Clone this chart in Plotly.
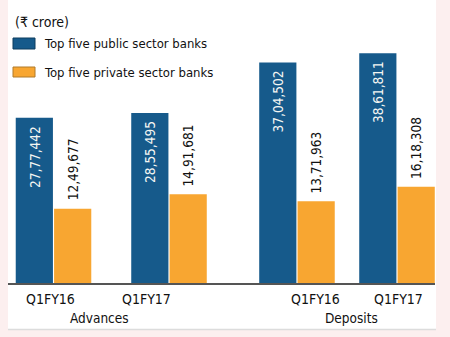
import plotly.graph_objects as go

# Data (₹ crore)
groups = ["Advances", "Advances", "Deposits", "Deposits"]
quarters = ["Q1FY16", "Q1FY17", "Q1FY16", "Q1FY17"]
public_banks = [2777442, 2855495, 3704502, 3861811]
private_banks = [1249677, 1491681, 1371963, 1618308]
public_labels = ["27,77,442", "28,55,495", "37,04,502", "38,61,811"]
private_labels = ["12,49,677", "14,91,681", "13,71,963", "16,18,308"]
series_names = ["Top five public sector banks", "Top five private sector banks"]
unit_label = "(₹ crore)"

# Layout constants
W, H = 450, 337
ML, MR, MT, MB = 8, 15, 45, 54
slot_pos = [0.0, 1.0, 2.108, 2.974]          # centre of each bar pair
tick_pos = [-0.026, 0.805, 2.268, 2.987]     # quarter label positions
group_label_pos = {"Advances": 0.398, "Deposits": 2.58}
bar_w = 0.322
gap = 0.005
x_range = [-0.394, 3.303]
y_range = [0, 4.0e6]

BLUE = "#165a8b"
ORANGE = "#f8a631"
FONT = "DejaVu Sans Condensed, Liberation Sans, sans-serif"

pw, ph = W - ML - MR, H - MT - MB


def px_x(x):
    return (x - ML) / pw


def px_y(y):
    return (H - MB - y) / ph


fig = go.Figure()
fig.add_trace(go.Bar(
    x=slot_pos, y=public_banks, name=series_names[0],
    width=bar_w, offset=-bar_w - gap,
    marker=dict(color=BLUE, line=dict(width=0)), showlegend=False,
))
fig.add_trace(go.Bar(
    x=slot_pos, y=private_banks, name=series_names[1],
    width=bar_w, offset=gap,
    marker=dict(color=ORANGE, line=dict(width=0)), showlegend=False,
))

annotations = []
for xp, v, t in zip(slot_pos, public_banks, public_labels):
    annotations.append(dict(
        x=xp - bar_w / 2 - gap, y=v, text=t, textangle=-90, showarrow=False,
        xanchor="center", yanchor="top", yshift=-6,
        font=dict(family=FONT, size=13.5, color="#f4f6f2"),
    ))
for xp, v, t in zip(slot_pos, private_banks, private_labels):
    annotations.append(dict(
        x=xp + bar_w / 2 + gap, y=v, text=t, textangle=-90, showarrow=False,
        xanchor="center", yanchor="bottom", yshift=6,
        font=dict(family=FONT, size=13.5, color="#111111"),
    ))

# quarter labels under the axis
for xp, q in zip(tick_pos, quarters):
    annotations.append(dict(
        x=xp, y=0, xref="x", yref="paper", text=q, showarrow=False,
        xanchor="center", yanchor="middle", yshift=-16,
        font=dict(family=FONT, size=14, color="#111111"),
    ))
for g, xp in group_label_pos.items():
    annotations.append(dict(
        x=xp, y=0, xref="x", yref="paper", text=g, showarrow=False,
        xanchor="center", yanchor="middle", yshift=-35,
        font=dict(family=FONT, size=13.5, color="#111111"),
    ))

# unit note and legend
annotations.append(dict(
    x=px_x(13), y=px_y(22), xref="paper", yref="paper", text=unit_label,
    showarrow=False, xanchor="left", yanchor="middle",
    font=dict(family=FONT, size=14, color="#111111"),
))
shapes = [
    # white card over the tinted page
    dict(type="rect", xref="paper", yref="paper", layer="below",
         x0=px_x(8), x1=px_x(436), y0=px_y(329), y1=px_y(0),
         fillcolor="white", line=dict(width=0)),
    dict(type="line", xref="paper", yref="paper", layer="below",
         x0=px_x(8), x1=px_x(436), y0=px_y(329.5), y1=px_y(329.5),
         line=dict(color="#dcdcdc", width=1.5)),
]
legend_rows = [(38, 49, BLUE, "#0d3c5e"), (67, 77, ORANGE, "#b07a2a")]
for (y0, y1, fill, edge), name in zip(legend_rows, series_names):
    shapes.append(dict(
        type="rect", xref="paper", yref="paper",
        x0=px_x(13), x1=px_x(35), y0=px_y(y1), y1=px_y(y0),
        fillcolor=fill, line=dict(color=edge, width=1),
    ))
    annotations.append(dict(
        x=px_x(42), y=px_y((y0 + y1) / 2), xref="paper", yref="paper",
        text=name, showarrow=False, xanchor="left", yanchor="middle",
        font=dict(family=FONT, size=13, color="#111111"),
    ))

fig.update_layout(
    width=W, height=H,
    margin=dict(l=ML, r=MR, t=MT, b=MB, pad=0),
    paper_bgcolor="#fcefef", plot_bgcolor="rgba(0,0,0,0)",
    barmode="overlay", showlegend=False,
    xaxis=dict(range=x_range, showticklabels=False, showgrid=False,
               zeroline=False, showline=True, linecolor="#555555",
               linewidth=1.5, ticks="", fixedrange=True),
    yaxis=dict(range=y_range, visible=False, fixedrange=True),
    annotations=annotations, shapes=shapes,
)

fig.write_html("out.html")
